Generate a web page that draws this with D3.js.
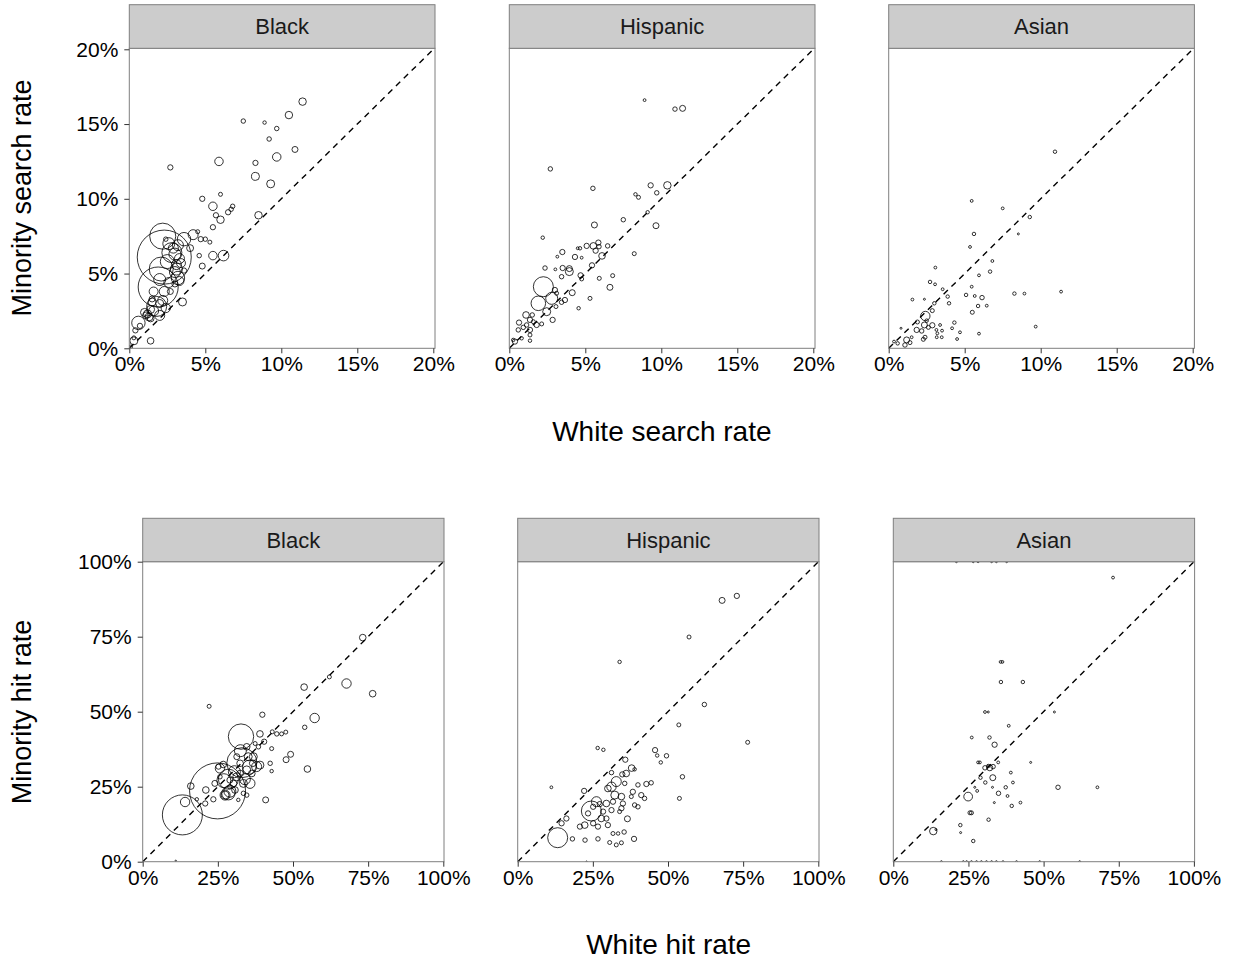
<!DOCTYPE html>
<html>
<head>
<meta charset="utf-8">
<script src="https://cdn.jsdelivr.net/npm/d3@7"></script>
<style>
  body { margin: 0; background: #fff; }
  text { font-family: "Liberation Sans", Arial, sans-serif; }
</style>
</head>
<body>
<svg id="chart" width="1233" height="959"></svg>
<script>
// facet labels and ticks
var races = ["Black", "Hispanic", "Asian"];
var searchTicks = [0, 0.05, 0.10, 0.15, 0.20];
var hitTicks = [0, 0.25, 0.50, 0.75, 1.00];

// [white %, minority %, stops]
var searchBlack = [[11.4,16.5,14],[10.5,15.6,14],[7.5,15.2,5],[8.9,15.1,3],[9.7,14.7,5],[9.2,14.0,5],[10.9,13.3,9],[2.7,12.1,7],[5.9,12.5,18],[9.7,12.8,18],[8.3,12.4,7],[8.3,11.5,16],[9.3,11.0,16],[4.8,10.0,7],[6.0,10.3,4],[5.5,9.5,18],[5.7,8.9,7],[6.0,8.6,14],[6.5,9.1,7],[6.7,9.3,5],[6.8,9.5,5],[8.5,8.9,14],[5.5,8.1,7],[6.2,6.2,28],[5.5,6.2,18],[4.8,5.5,9],[4.6,6.2,5],[4.2,7.6,25],[4.5,7.8,4],[4.7,7.3,7],[5.0,7.3,5],[5.3,7.1,4],[2.4,7.3,5],[2.3,6.1,730],[2.2,7.5,170],[3.6,7.3,45],[2.8,6.4,100],[2.1,5.3,144],[1.9,4.1,400],[3.1,5.3,36],[3.2,4.7,45],[3.0,5.1,30],[3.1,5.6,25],[3.3,4.5,20],[3.0,4.3,9],[3.4,5.7,20],[3.6,5.2,7],[3.3,6.0,25],[2.9,6.7,25],[3.2,6.9,30],[2.6,7.0,36],[1.6,3.8,20],[2.3,3.8,25],[2.2,3.2,25],[2.4,2.7,22],[3.5,3.1,16],[1.8,2.8,100],[1.5,3.1,16],[1.4,2.6,16],[1.2,2.3,16],[1.0,2.4,16],[1.3,2.1,16],[1.4,2.0,12],[1.1,2.2,12],[0.6,1.7,45],[0.7,1.5,7],[0.4,1.2,7],[0.3,0.7,4],[0.3,0.5,16],[1.4,0.5,11],[0.1,0.1,3],[2.6,4.4,25],[1.6,2.5,25],[2.0,2.2,25],[2.7,3.8,9],[1.5,3.3,9],[2.0,3.0,16],[4.0,6.7,12],[2.5,5.8,49],[3.0,6.3,36],[2.0,4.6,36]];
var searchHispanic = [[8.9,16.6,2],[10.9,16.0,5],[11.4,16.05,9],[2.7,12.0,5],[5.5,10.7,5],[9.3,10.9,7],[10.4,10.9,14],[9.7,10.4,5],[8.3,10.3,3],[8.5,10.1,4],[9.1,9.1,3],[7.5,8.6,5],[5.6,8.25,9],[9.65,8.2,9],[2.2,7.4,3],[5.86,7.07,7],[5.53,6.85,11],[5.09,6.85,7],[4.65,6.69,3],[4.5,6.69,2],[6.47,6.85,5],[5.9,6.8,5],[5.68,6.53,7],[6.1,6.18,11],[4.76,6.06,2],[4.32,6.11,7],[3.49,6.44,7],[3.16,6.13,2],[8.22,6.33,4],[5.44,5.55,7],[3.95,5.33,9],[3.95,5.13,16],[3.51,5.37,7],[3.03,5.28,2],[2.35,5.37,5],[3.44,4.79,5],[4.69,4.88,7],[4.76,4.64,4],[5.92,4.68,4],[6.8,4.86,4],[6.62,4.08,9],[5.31,3.34,4],[4.14,3.72,9],[4.56,2.68,3],[3.66,3.23,7],[3.44,3.08,5],[2.24,4.12,100],[1.91,3.01,53],[2.79,3.34,36],[2.46,2.45,16],[2.85,1.9,7],[3.0,3.9,7],[3.11,3.68,4],[3.07,2.79,4],[1.1,2.23,11],[0.64,1.72,7],[1.51,2.23,5],[1.36,1.9,7],[0.92,1.4,5],[0.59,1.23,5],[1.36,1.23,7],[1.8,1.56,7],[2.13,1.63,4],[1.36,0.89,4],[0.37,0.45,7],[0.26,0.56,3],[1.36,0.51,3],[0.81,0.67,3],[1.14,1.56,5],[1.58,1.78,4]];
var searchAsian = [[10.94,13.15,3],[5.46,9.86,2],[7.5,9.36,2],[9.28,8.78,3],[5.61,7.65,3],[8.53,7.65,1],[5.35,6.78,2],[6.82,5.84,2],[3.07,5.4,2],[6.67,5.13,3],[5.94,4.88,2],[2.72,4.44,3],[3.05,4.28,2],[5.46,4.12,2],[3.55,3.95,2],[1.56,3.26,2],[2.35,3.28,1],[3.88,3.46,3],[5.09,3.57,3],[5.66,3.5,2],[6.14,3.39,5],[8.27,3.66,3],[8.93,3.66,2],[11.34,3.79,2],[3.97,3.01,3],[3.0,3.01,3],[5.88,2.83,3],[6.45,2.85,2],[5.5,2.41,4],[2.87,2.52,4],[2.41,2.16,22],[1.89,1.76,4],[2.35,1.56,9],[2.87,1.54,7],[2.61,1.4,4],[1.84,1.23,7],[2.17,1.16,5],[2.39,0.74,4],[2.28,0.6,4],[3.38,1.56,2],[3.14,1.23,2],[3.2,1.0,2],[3.51,1.18,2],[3.49,0.74,2],[3.16,0.74,2],[4.32,1.72,3],[4.17,1.34,2],[4.69,1.07,2],[4.5,0.62,2],[5.94,0.98,2],[9.67,1.45,2],[0.81,1.34,1],[1.18,0.56,9],[1.4,0.38,4],[1.07,0.22,5],[0.59,0.33,3],[0.35,0.45,2],[1.51,0.74,2],[2.5,1.85,3]];

var hitBlack = [[73.2,74.7,11],[62.1,61.6,4],[67.8,59.4,22],[53.7,58.2,11],[76.5,56.0,11],[22.1,51.8,4],[39.8,49.0,7],[57.2,47.9,22],[53.9,44.8,5],[43.1,43.3,4],[44.6,42.6,5],[46.2,42.6,4],[47.6,43.2,4],[42.9,37.7,4],[42.4,32.8,5],[42.9,30.2,3],[49.2,35.8,9],[47.7,34.0,9],[54.8,30.9,11],[40.9,20.6,9],[24.9,23.6,784],[13.2,15.6,400],[32.7,41.7,161],[33.0,33.0,225],[28.5,27.5,100],[14.1,19.9,22],[16.0,25.2,11],[21.0,23.9,11],[20.8,19.4,7],[23.5,20.8,7],[18.0,20.8,3],[25.7,31.1,22],[26.8,32.4,11],[25.2,31.7,7],[28.5,22.8,44],[27.4,22.2,25],[31.3,28.3,16],[32.4,29.4,11],[30.2,26.1,11],[33.5,26.1,16],[30.7,23.9,11],[29.0,27.2,9],[32.4,32.8,11],[31.3,35.0,9],[34.6,30.6,16],[36.3,29.4,11],[36.8,35.0,16],[39.0,32.2,16],[34.6,22.2,5],[31.8,20.6,3],[33.5,22.8,5],[35.7,26.1,25],[29.0,25.0,5],[25.7,28.3,5],[24.0,26.1,9],[39.0,42.6,11],[40.4,40.0,7],[38.5,38.3,5],[37.4,39.4,4],[34.6,38.3,11],[37.9,31.7,25],[36.6,32.8,11],[35.1,35.0,16],[27.4,22.2,16],[11.0,0.3,0.5],[27.0,27.0,49],[30.5,30.0,36],[35.5,31.5,49],[29.0,23.5,36],[32.5,37.0,36],[34.0,27.5,30]];
var hitHispanic = [[68.0,87.1,9],[72.9,88.6,7],[57.0,74.9,4],[33.9,66.6,3],[62.1,52.4,5],[53.6,45.6,4],[76.5,39.8,4],[26.6,37.9,3],[28.5,37.3,3],[45.7,37.2,7],[46.4,35.4,3],[49.5,35.3,5],[47.6,33.1,3],[35.8,34.0,7],[37.9,31.2,11],[38.9,30.8,3],[34.8,29.1,7],[36.1,29.4,11],[31.2,29.7,5],[54.8,28.3,5],[11.2,24.8,2],[22.1,23.6,7],[53.8,21.1,4],[32.8,26.7,25],[31.2,25.0,22],[30.0,24.4,11],[32.3,22.2,16],[34.5,21.7,11],[35.6,26.1,5],[40.0,25.6,5],[42.8,25.9,7],[44.4,26.3,5],[41.1,22.2,7],[42.2,21.1,5],[38.3,23.3,7],[37.8,21.7,4],[38.9,18.9,5],[40.0,18.3,5],[35.0,19.4,7],[34.5,17.8,7],[31.7,20.0,7],[29.5,19.4,11],[27.3,19.2,7],[26.2,20.0,25],[25.1,18.3,7],[24.5,16.9,100],[23.4,16.1,7],[28.4,16.7,7],[27.8,14.4,11],[29.5,14.4,7],[30.0,12.2,7],[31.2,17.2,7],[33.9,16.7,4],[36.5,14.3,9],[26.7,11.7,7],[25.1,12.8,7],[22.3,12.2,11],[20.7,11.7,7],[16.2,14.4,7],[14.6,12.8,7],[13.3,8.0,100],[18.2,7.6,5],[22.4,7.2,5],[26.7,7.6,5],[31.7,9.4,4],[33.4,9.4,3],[35.4,9.9,5],[30.6,6.4,4],[32.8,5.6,4],[34.5,6.3,4],[38.7,7.6,7],[22.9,0.0,0.5]];
var hitAsian = [[73.1,94.7,2],[35.7,66.6,2],[36.3,66.6,2],[35.8,59.9,3],[43.1,59.9,3],[30.5,49.9,2],[31.6,49.9,1],[53.6,49.9,1],[38.4,45.3,2],[26.1,41.4,2],[32.0,41.4,3],[33.7,39.0,7],[28.2,33.1,2],[28.8,33.1,2],[30.5,31.3,5],[32.1,31.3,9],[33.2,31.7,5],[31.6,31.9,3],[34.9,33.1,2],[45.7,33.1,1],[33.1,28.0,9],[29.0,28.0,3],[39.1,29.7,2],[30.6,26.4,3],[39.8,26.4,2],[27.1,24.8,1],[27.9,23.6,2],[33.0,24.8,1],[37.4,24.8,3],[54.8,24.8,5],[67.9,24.8,2],[24.9,21.7,19],[35.0,22.8,5],[38.0,21.9,2],[33.6,19.7,1],[39.4,18.6,3],[42.3,19.7,2],[25.5,16.3,4],[26.0,16.3,4],[31.7,14.0,3],[22.3,12.2,3],[22.4,9.7,1],[13.3,10.2,14],[14.2,10.7,1],[26.6,6.9,3],[21.0,100,1],[26.6,100,1],[28.2,100,1],[32.7,100,1],[34.3,100,1],[37.7,100,1],[16.0,0,1],[23.3,0,1],[24.4,0,1],[26.0,0,1],[27.7,0,1],[29.3,0,1],[31.0,0,1],[32.7,0,1],[34.3,0,1],[36.5,0,1],[41.0,0,1],[48.7,0,1],[62.0,0,1]];

var searchData = [searchBlack, searchHispanic, searchAsian];
var hitData = [hitBlack, hitHispanic, hitAsian];

var svg = d3.select("#chart");
var rScale = d3.scaleSqrt().domain([0, 784]).range([0, 28]);
var pct = d3.format(".0%");

var rows = [
    {data: searchData, ticks: searchTicks, max: 0.2,
     lefts: [129.3, 509.3, 888.7], dataW: 304, boxW: 305.7,
     bottom: 348.3, dataH: 299, boxTop: 48.3, stripTop: 4.7,
     ylab: "Minority search rate", xlab: "White search rate", xlabY: 431, ylabY: 198},
    {data: hitData, ticks: hitTicks, max: 1,
     lefts: [142.7, 517.7, 893.3], dataW: 300.6, boxW: 301.3,
     bottom: 861.7, dataH: 300, boxTop: 561.7, stripTop: 518.3,
     ylab: "Minority hit rate", xlab: "White hit rate", xlabY: 944, ylabY: 712}
];

rows.forEach(function(row, ri) {
    row.lefts.forEach(function(left, pi) {
        var x = d3.scaleLinear().domain([0, row.max]).range([left, left + row.dataW]);
        var y = d3.scaleLinear().domain([0, row.max]).range([row.bottom, row.bottom - row.dataH]);
        var g = svg.append("g");
        var clipId = "clip" + ri + pi;

        g.append("clipPath").attr("id", clipId)
            .append("rect")
            .attr("x", left).attr("y", row.boxTop)
            .attr("width", row.boxW).attr("height", row.bottom - row.boxTop);

        g.append("rect")
            .attr("x", left).attr("y", row.boxTop)
            .attr("width", row.boxW).attr("height", row.bottom - row.boxTop)
            .attr("fill", "#fff");

        var pts = g.append("g").attr("clip-path", "url(#" + clipId + ")");
        pts.selectAll("circle")
            .data(row.data[pi])
            .join("circle")
            .attr("cx", function(d) { return x(d[0] / 100); })
            .attr("cy", function(d) { return y(d[1] / 100); })
            .attr("r", function(d) { return rScale(d[2]); })
            .attr("fill", "none")
            .attr("stroke", "#000")
            .attr("stroke-width", 0.8);

        pts.append("line")
            .attr("x1", x(0)).attr("y1", y(0))
            .attr("x2", x(row.max)).attr("y2", y(row.max))
            .attr("stroke", "#000")
            .attr("stroke-width", 1.4)
            .attr("stroke-dasharray", "6,5");

        // panel border
        g.append("rect")
            .attr("x", left).attr("y", row.boxTop)
            .attr("width", row.boxW).attr("height", row.bottom - row.boxTop)
            .attr("fill", "none").attr("stroke", "#7f7f7f").attr("stroke-width", 1);

        // strip
        g.append("rect")
            .attr("x", left).attr("y", row.stripTop)
            .attr("width", row.boxW).attr("height", row.boxTop - row.stripTop)
            .attr("fill", "#cccccc").attr("stroke", "#7f7f7f").attr("stroke-width", 1);
        g.append("text")
            .attr("x", left + row.boxW / 2)
            .attr("y", (row.stripTop + row.boxTop) / 2)
            .attr("text-anchor", "middle")
            .attr("dominant-baseline", "central")
            .attr("font-size", 22)
            .attr("fill", "#1a1a1a")
            .text(races[pi]);

        var xAxis = g.append("g")
            .attr("transform", "translate(0," + row.bottom + ")")
            .call(d3.axisBottom(x).tickValues(row.ticks).tickFormat(pct).tickSize(5).tickPadding(3));
        xAxis.select(".domain").remove();

        if (pi == 0) {
            var yAxis = g.append("g")
                .attr("transform", "translate(" + left + ",0)")
                .call(d3.axisLeft(y).tickValues(row.ticks).tickFormat(pct).tickSize(5).tickPadding(6));
            yAxis.select(".domain").remove();
        }
    });

    svg.append("text")
        .attr("x", (row.lefts[0] + row.lefts[2] + row.boxW) / 2)
        .attr("y", row.xlabY)
        .attr("text-anchor", "middle")
        .attr("dominant-baseline", "central")
        .attr("font-size", 28)
        .text(row.xlab);

    svg.append("text")
        .attr("transform", "translate(22," + row.ylabY + ") rotate(-90)")
        .attr("text-anchor", "middle")
        .attr("dominant-baseline", "central")
        .attr("font-size", 27)
        .text(row.ylab);
});

svg.selectAll(".tick text")
    .attr("font-size", 21)
    .attr("font-family", "Liberation Sans, Arial, sans-serif")
    .attr("fill", "#000");
svg.selectAll(".tick line").attr("stroke", "#333");
</script>
</body>
</html>
